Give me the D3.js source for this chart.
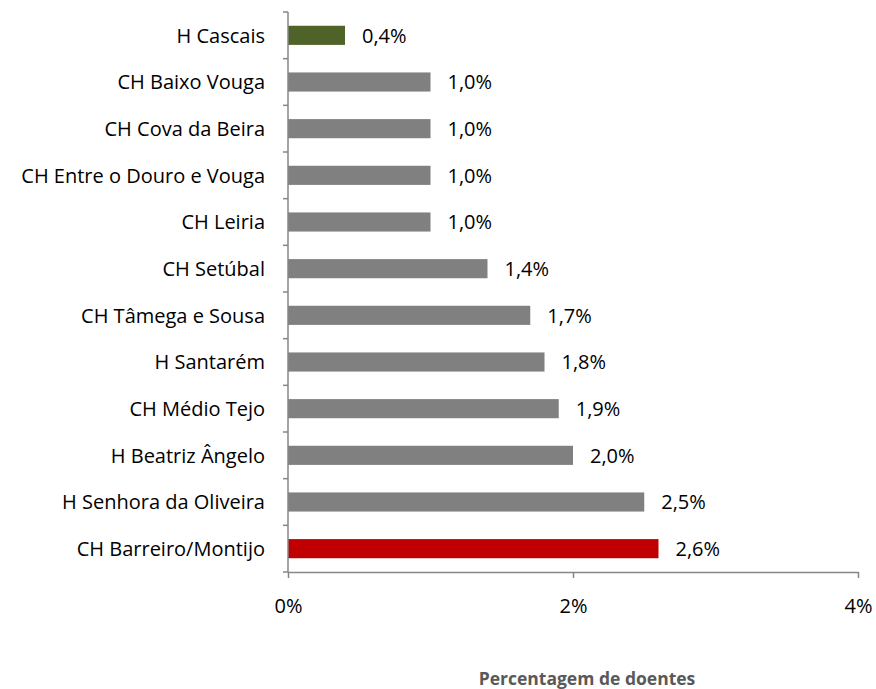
<!DOCTYPE html>
<html>
<head>
<meta charset="utf-8">
<script src="https://cdn.jsdelivr.net/npm/d3@7"></script>
<style>
  body { margin: 0; background: #fff; }
  svg { display: block; font-family: "Open Sans", sans-serif; }
</style>
</head>
<body>
<div id="grafic"></div>
<script>
// dades
var hospitais = ['H Cascais', 'CH Baixo Vouga', 'CH Cova da Beira', 'CH Entre o Douro e Vouga',
	'CH Leiria', 'CH Setúbal', 'CH Tâmega e Sousa', 'H Santarém', 'CH Médio Tejo',
	'H Beatriz Ângelo', 'H Senhora da Oliveira', 'CH Barreiro/Montijo'];
var percent = [0.4, 1.0, 1.0, 1.0, 1.0, 1.4, 1.7, 1.8, 1.9, 2.0, 2.5, 2.6];
var destaque = ['verd', 'gris', 'gris', 'gris', 'gris', 'gris', 'gris', 'gris', 'gris', 'gris', 'gris', 'verm'];
var ticsX = [0, 2, 4];
var titolX = 'Percentagem de doentes';

var Amplada = 876, Alçada = 689;
var marge = {dalt: 12, dreta: 18, baix: 117, esquerra: 288};

var plànol = d3.select('#grafic')
	.append('svg')
		.attr('width', Amplada)
		.attr('height', Alçada);

var llenç = plànol.append('g')
	.attr('transform', `translate(${marge.esquerra},${marge.dalt})`);

var x = d3.scaleLinear().domain([0, 4]).range([0, 570]);
var y = d3.scaleBand().domain(hospitais).range([0, 560]).paddingInner(0.59).paddingOuter(0.295);
var yTic = d3.scaleLinear().domain([0, hospitais.length]).range([0, 560]);
var color = d3.scaleOrdinal()
	.domain(['verd', 'gris', 'verm'])
	.range(['#4F6228', '#808080', '#C00000']);

var dades = hospitais.map((h, i) => ({nom: h, val: percent[i], tipus: destaque[i]}));

// barres
llenç.append('g')
	.selectAll('rect')
	.data(dades)
	.enter()
	.append('rect')
		.attr('x', 0)
		.attr('y', d => y(d.nom))
		.attr('width', d => x(d.val))
		.attr('height', y.bandwidth())
		.attr('fill', d => color(d.tipus));

// etiquetes de valor
llenç.append('g')
	.selectAll('text')
	.data(dades)
	.enter()
	.append('text')
		.attr('x', d => x(d.val) + 17)
		.attr('y', d => y(d.nom) + y.bandwidth() / 2)
		.attr('dy', '0.36em')
		.attr('font-size', 20)
		.attr('fill', '#000')
		.text(d => d.val.toFixed(1).replace('.', ',') + '%');

// eix Y
var eixY = llenç.append('g');
eixY.append('line')
	.attr('x1', 0).attr('x2', 0)
	.attr('y1', 0).attr('y2', 560)
	.attr('stroke', '#868686').attr('stroke-width', 1.5);
eixY.selectAll('line.tic')
	.data(d3.range(hospitais.length + 1))
	.enter()
	.append('line')
		.attr('class', 'tic')
		.attr('x1', -5).attr('x2', 0)
		.attr('y1', d => yTic(d)).attr('y2', d => yTic(d))
		.attr('stroke', '#868686').attr('stroke-width', 1.5);
eixY.selectAll('text')
	.data(hospitais)
	.enter()
	.append('text')
		.attr('x', -23)
		.attr('y', d => y(d) + y.bandwidth() / 2)
		.attr('dy', '0.36em')
		.attr('text-anchor', 'end')
		.attr('font-size', 20)
		.attr('fill', '#000')
		.text(d => d);

// eix X
var eixX = llenç.append('g')
	.attr('transform', 'translate(0,560)')
	.call(d3.axisBottom(x).tickValues(ticsX).tickSize(6).tickSizeOuter(0)
		.tickFormat(d => d + '%'));
eixX.select('.domain').attr('stroke', '#868686').attr('stroke-width', 1.5);
eixX.selectAll('.tick line').attr('stroke', '#868686').attr('stroke-width', 1.5);
eixX.selectAll('.tick text')
	.attr('y', 27)
	.attr('font-size', 20)
	.attr('font-family', '"Open Sans", sans-serif')
	.attr('fill', '#000');

// títol de l'eix
plànol.append('text')
	.attr('x', 587)
	.attr('y', 685)
	.attr('text-anchor', 'middle')
	.attr('font-size', 17.5)
	.attr('font-weight', 'bold')
	.attr('fill', '#595959')
	.text(titolX);
</script>
</body>
</html>
